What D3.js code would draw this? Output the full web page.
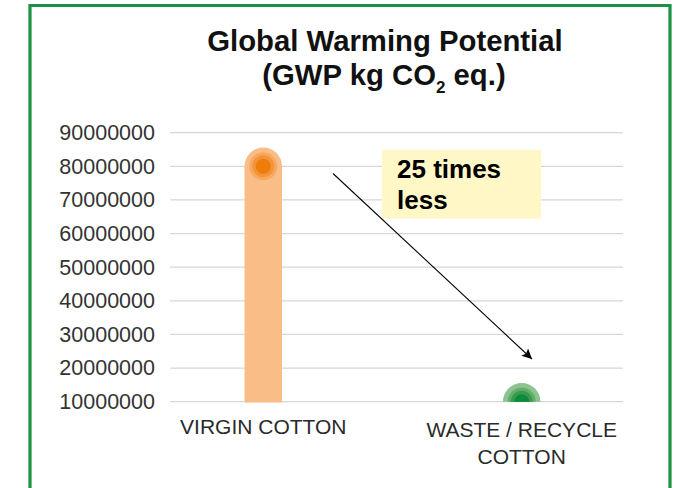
<!DOCTYPE html>
<html><head><meta charset="utf-8">
<script src="https://cdn.jsdelivr.net/npm/d3@7"></script>
<style>
html,body{margin:0;padding:0;background:#fff;}
svg{display:block;font-family:"Liberation Sans",Arial,Helvetica,sans-serif;}
</style></head>
<body>
<svg id="chart" width="686" height="488"></svg>
<script>
const categories = ["VIRGIN COTTON", "WASTE / RECYCLE\nCOTTON"];
const values = [80000000, 3200000];
const yTicks = [10000000, 20000000, 30000000, 40000000, 50000000, 60000000, 70000000, 80000000, 90000000];
const titleLines = ["Global Warming Potential", "(GWP kg CO", "2", " eq.)"];
const annotationLines = ["25 times", "less"];

const svg = d3.select("#chart");
const W = 686, H = 488;
const plot = {left: 170, right: 623, top: 132.7, bottom: 401.7};

const y = d3.scaleLinear().domain([10000000, 90000000]).range([plot.bottom, plot.top]).clamp(true);
const x = d3.scalePoint().domain(categories).range([263.3, 521.7]);

const defs = svg.append("defs");
defs.append("marker").attr("id", "arr")
  .attr("viewBox", "0 0 10 10").attr("refX", 10).attr("refY", 5)
  .attr("markerWidth", 16).attr("markerHeight", 10).attr("markerUnits", "userSpaceOnUse")
  .attr("orient", "auto")
  .append("path").attr("d", "M0,0 L10,5 L0,10 L2,5 Z").attr("fill", "#000");

// border
svg.append("path")
  .attr("d", `M30,${H+5} V5.5 H670 V${H+5}`)
  .attr("fill", "none").attr("stroke", "#1a9242").attr("stroke-width", 3.2);

// title
svg.append("text").attr("text-anchor", "middle").attr("font-weight", "bold").attr("fill", "#111")
  .attr("x", 385).attr("y", 50.5).attr("font-size", 29.3).text(titleLines[0]);
const l2 = svg.append("text").attr("text-anchor", "middle").attr("font-weight", "bold").attr("fill", "#111")
  .attr("x", 384).attr("y", 84.5).attr("font-size", 29.3);
l2.append("tspan").text(titleLines[1]);
l2.append("tspan").attr("font-size", 17).attr("dy", 8).text(titleLines[2]);
l2.append("tspan").attr("dy", -8).text(titleLines[3]);

// grid
svg.append("g").selectAll("line").data(yTicks).join("line")
  .attr("x1", plot.left).attr("x2", plot.right)
  .attr("y1", d => y(d)).attr("y2", d => y(d))
  .attr("stroke", "#d6d6d6").attr("stroke-width", 1.2);

// y axis labels
const yAxis = d3.axisLeft(y).tickValues(yTicks).tickFormat(d3.format("d")).tickSize(0).tickPadding(0);
const ga = svg.append("g").attr("transform", "translate(155,0)").call(yAxis);
ga.select(".domain").remove();
ga.selectAll("text").attr("font-size", 21.5).attr("fill", "#333")
  .attr("font-family", "Liberation Sans, Arial, sans-serif");

const palettes = [
  ["#f9bd88", "#f7a961", "#f3943c", "#ee7c08"],
  ["#8cc38f", "#62ae6b", "#3a9a50", "#0d8a3c"]
];
const bw = 37.5;
const radii = [bw/2, 14, 11, 7.5];
const marks = svg.append("g");
categories.forEach((c, i) => {
  const cx = x(c), cy = y(values[i]);
  const below = values[i] < y.domain()[0];   // value below axis minimum: only upper half shows
  const pal = palettes[i];
  if (cy < plot.bottom) {
    marks.append("rect").attr("x", cx - bw/2).attr("width", bw)
      .attr("y", cy).attr("height", plot.bottom + 0.8 - cy).attr("fill", pal[0]);
  }
  radii.forEach((r, k) => {
    const arc = d3.arc().innerRadius(0).outerRadius(r)
      .startAngle(below ? -Math.PI / 2 : 0).endAngle(below ? Math.PI / 2 : 2 * Math.PI);
    marks.append("path").attr("transform", `translate(${cx},${cy})`)
      .attr("d", arc()).attr("fill", pal[k]);
  });
});

// x labels
const xl = svg.append("g");
categories.forEach((c, i) => {
  const lines = c.split("\n");
  const t = xl.append("text").attr("text-anchor", "middle").attr("font-size", 21).attr("fill", "#2a2a2a")
    .attr("x", x(c)).attr("y", lines.length > 1 ? 436.5 : 433.5);
  lines.forEach((ln, k) => {
    t.append("tspan").attr("x", x(c)).attr("dy", k === 0 ? 0 : 27).text(ln);
  });
});

// annotation box
svg.append("rect").attr("x", 382).attr("y", 150).attr("width", 159).attr("height", 68.5).attr("fill", "#fff8c6");
const at = svg.append("text").attr("font-weight", "bold").attr("font-size", 26).attr("fill", "#000");
annotationLines.forEach((ln, k) => {
  at.append("tspan").attr("x", 397).attr("y", 177.7 + k * 31.6).text(ln);
});

// arrow
svg.append("line").attr("x1", 333).attr("y1", 173.5).attr("x2", 532).attr("y2", 359)
  .attr("stroke", "#000").attr("stroke-width", 1.1).attr("marker-end", "url(#arr)");
</script>
</body></html>
